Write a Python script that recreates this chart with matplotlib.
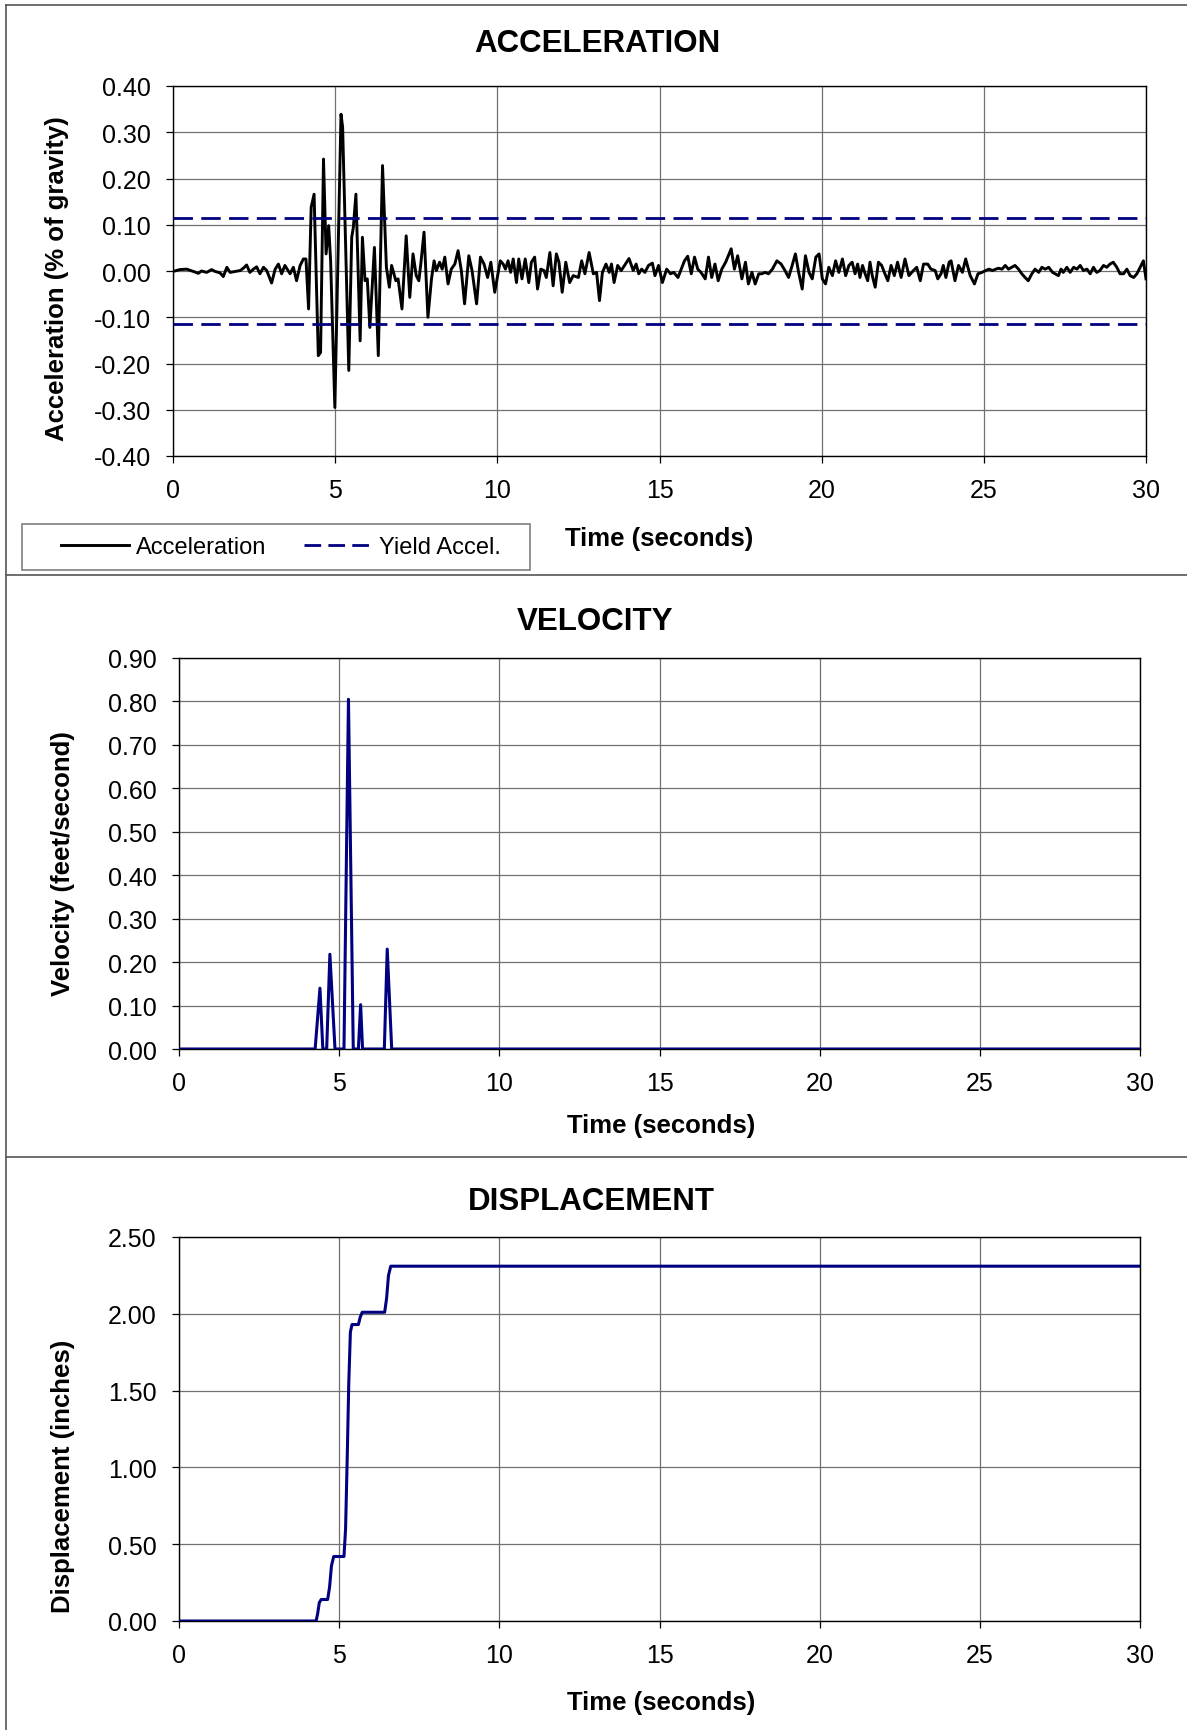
import matplotlib
matplotlib.use("Agg")
import matplotlib.pyplot as plt
from matplotlib.lines import Line2D
from matplotlib.patches import Rectangle

plt.rcParams['font.family'] = ['Liberation Sans', 'DejaVu Sans']

# ---------------- data ----------------
acc_time = [0.00, 0.21, 0.42, 0.63, 0.78, 0.88, 1.04, 1.19, 1.30, 1.45, 1.55, 1.66, 1.76, 1.91,
            2.07, 2.17, 2.27, 2.37, 2.48, 2.58, 2.68, 2.79, 2.89, 3.04, 3.15, 3.25, 3.35, 3.45,
            3.61, 3.71, 3.81, 3.92, 4.02, 4.10, 4.18, 4.26, 4.35, 4.48, 4.55, 4.64, 4.72, 4.80,
            4.86, 4.99, 5.18, 5.23, 5.42, 5.51, 5.56, 5.64, 5.77, 5.84, 5.92, 5.99, 6.07, 6.21,
            6.33, 6.46, 6.58, 6.67, 6.74, 6.87, 6.94, 7.06, 7.19, 7.30, 7.40, 7.50, 7.58, 7.64,
            7.74, 7.86, 7.97, 8.05, 8.12, 8.22, 8.30, 8.38, 8.48, 8.58, 8.69, 8.79, 8.89, 8.99,
            9.12, 9.22, 9.36, 9.48, 9.59, 9.70, 9.80, 9.92, 10.09, 10.18, 10.25, 10.33, 10.41,
            10.49, 10.59, 10.66, 10.76, 10.86, 10.97, 11.05, 11.15, 11.24, 11.34, 11.44, 11.51,
            11.62, 11.72, 11.82, 11.90, 12.00, 12.11, 12.23, 12.34, 12.50, 12.60, 12.70, 12.83,
            12.96, 13.06, 13.15, 13.24, 13.35, 13.45, 13.52, 13.60, 13.71, 13.82, 13.92, 14.06,
            14.19, 14.28, 14.36, 14.45, 14.55, 14.66, 14.78, 14.86, 14.97, 15.09, 15.22, 15.34,
            15.44, 15.57, 15.67, 15.77, 15.87, 15.98, 16.08, 16.18, 16.28, 16.41, 16.51, 16.61,
            16.71, 16.81, 16.92, 17.04, 17.21, 17.31, 17.41, 17.54, 17.65, 17.74, 17.85, 17.95,
            18.06, 18.15, 18.26, 18.36, 18.48, 18.62, 18.75, 18.87, 18.98, 19.09, 19.19, 19.29,
            19.40, 19.50, 19.61, 19.71, 19.82, 19.92, 20.02, 20.12, 20.22, 20.33, 20.43, 20.53,
            20.64, 20.74, 20.84, 20.94, 21.03, 21.11, 21.18, 21.26, 21.34, 21.42, 21.49, 21.56,
            21.65, 21.75, 21.85, 21.95, 22.04, 22.14, 22.24, 22.34, 22.45, 22.57, 22.69, 22.83,
            22.93, 23.04, 23.14, 23.27, 23.37, 23.50, 23.58, 23.68, 23.75, 23.83, 23.93, 23.99,
            24.11, 24.22, 24.34, 24.44, 24.58, 24.71, 24.82, 24.94, 25.06, 25.16, 25.27, 25.37,
            25.45, 25.56, 25.66, 25.76, 25.86, 25.96, 26.07, 26.17, 26.27, 26.37, 26.48, 26.58,
            26.69, 26.79, 26.89, 27.00, 27.12, 27.20, 27.30, 27.38, 27.45, 27.56, 27.66, 27.77,
            27.87, 27.97, 28.07, 28.18, 28.28, 28.38, 28.48, 28.58, 28.69, 28.79, 28.89, 28.99,
            29.10, 29.20, 29.31, 29.41, 29.51, 29.62, 29.72, 29.82, 29.92, 30.00]
acc_value = [-0.001, 0.003, 0.004, -0.001, -0.005, 0.000, -0.003, 0.003, -0.001, -0.004, -0.012,
             0.008, -0.003, -0.001, 0.001, 0.006, 0.013, -0.003, 0.004, 0.009, -0.006, 0.008,
             0.001, -0.026, 0.004, 0.015, -0.006, 0.012, -0.006, 0.008, -0.021, 0.012, 0.026,
             0.026, -0.082, 0.138, 0.166, -0.183, -0.176, 0.242, 0.037, 0.098, 0.022, -0.295,
             0.339, 0.311, -0.215, 0.073, 0.094, 0.166, -0.151, 0.073, -0.021, -0.017, -0.122,
             0.051, -0.183, 0.228, 0.008, -0.035, 0.012, -0.021, -0.017, -0.082, 0.076, -0.057,
             0.037, -0.010, -0.021, 0.015, 0.084, -0.100, -0.017, 0.022, 0.001, 0.019, 0.004,
             0.030, -0.028, 0.004, 0.015, 0.044, 0.001, -0.071, 0.033, 0.001, -0.071, 0.030,
             0.015, -0.014, 0.019, -0.046, 0.022, 0.015, 0.004, 0.022, -0.003, 0.026, -0.025,
             0.026, -0.017, 0.026, -0.025, 0.019, 0.030, -0.039, 0.004, 0.001, -0.014, 0.040,
             -0.032, 0.037, 0.019, -0.046, 0.019, -0.025, -0.010, -0.014, 0.022, -0.006, 0.040,
             -0.006, -0.003, -0.064, -0.003, 0.015, -0.003, 0.015, -0.025, 0.012, 0.001, 0.012,
             0.027, 0.001, 0.015, -0.006, 0.004, -0.003, 0.012, 0.017, -0.010, 0.012, -0.025,
             0.004, -0.006, -0.003, -0.014, 0.004, 0.022, 0.032, -0.006, 0.030, 0.004, -0.003,
             -0.017, 0.030, -0.014, 0.015, -0.021, 0.004, 0.019, 0.048, 0.004, 0.033, -0.017,
             0.019, -0.028, -0.003, -0.028, -0.006, -0.006, -0.003, -0.006, 0.004, 0.022, 0.015,
             0.001, -0.014, 0.012, 0.037, -0.003, -0.039, 0.033, -0.003, -0.017, 0.030, 0.037,
             -0.017, -0.028, 0.008, -0.010, 0.022, -0.003, 0.026, -0.010, 0.012, 0.019, -0.006,
             0.015, -0.014, 0.012, -0.006, -0.021, 0.019, -0.010, -0.035, 0.019, 0.012, -0.006,
             -0.021, 0.012, -0.010, 0.019, -0.014, 0.026, -0.010, 0.001, 0.008, -0.021, 0.015,
             0.015, 0.004, 0.001, -0.017, -0.006, 0.012, -0.014, 0.019, 0.022, -0.021, 0.012,
             -0.003, 0.026, -0.010, -0.028, -0.006, -0.003, 0.001, 0.004, 0.001, 0.004, 0.006,
             0.004, 0.012, 0.004, 0.008, 0.012, 0.004, -0.006, -0.014, -0.021, -0.006, 0.004,
             -0.003, 0.008, 0.004, 0.008, -0.003, -0.006, -0.010, 0.004, -0.003, 0.008, -0.003,
             0.008, 0.004, 0.012, 0.001, 0.004, -0.006, 0.008, -0.003, 0.001, 0.012, 0.008,
             0.015, 0.019, 0.008, -0.006, -0.006, 0.004, -0.010, -0.014, -0.006, 0.008, 0.022,
             -0.017]
yield_accel = 0.115

vel_time = [0.00, 4.25, 4.40, 4.49, 4.61, 4.71, 4.87, 5.15, 5.29, 5.44, 5.60, 5.67, 5.73,
            6.41, 6.50, 6.64, 30.00]
vel_value = [0.00, 0.00, 0.14, 0.00, 0.00, 0.218, 0.00, 0.00, 0.805, 0.00, 0.00, 0.102, 0.00,
             0.00, 0.23, 0.00, 0.00]

disp_time = [0.00, 4.28, 4.33, 4.38, 4.44, 4.64, 4.70, 4.76, 4.83, 5.15, 5.20, 5.25, 5.30,
             5.35, 5.40, 5.60, 5.66, 5.72, 6.42, 6.48, 6.54, 6.61, 30.00]
disp_value = [0.00, 0.00, 0.05, 0.12, 0.14, 0.14, 0.22, 0.36, 0.42, 0.42, 0.60, 1.05, 1.55,
              1.88, 1.93, 1.93, 1.98, 2.01, 2.01, 2.10, 2.25, 2.31, 2.31]

time_ticks = [0, 5, 10, 15, 20, 25, 30]

# ---------------- layout ----------------
W, H = 1187, 1731
fig = plt.figure(figsize=(W / 100, H / 100), dpi=100)
fig.patch.set_facecolor('white')

NAVY = '#000080'
GRID = '#707070'
TICK_FS = 18
LABEL_FS = 18.5
TITLE_FS = 22.5


def px_axes(l, t, r, b):
    return fig.add_axes([l / W, 1 - b / H, (r - l) / W, (b - t) / H])


def ftext(x, y, s, **kw):
    fig.text(x / W, 1 - y / H, s, ha='center', va='center', **kw)


def style(ax, ylim, yticks):
    ax.set_xlim(0, 30)
    ax.set_ylim(*ylim)
    ax.set_xticks(time_ticks)
    ax.set_xticklabels([str(t) for t in time_ticks])
    ax.set_yticks(yticks)
    ax.set_yticklabels([f"{v:.2f}" for v in yticks])
    ax.grid(True, color=GRID, linewidth=0.9)
    ax.set_axisbelow(True)
    for sp in ax.spines.values():
        sp.set_color('black')
        sp.set_linewidth(1.0)
    ax.tick_params(direction='out', length=5, width=0.9, pad=11,
                   labelsize=TICK_FS, colors='black')


# Acceleration
ax1 = px_axes(173, 87, 1146, 457)
ax1.plot(acc_time, acc_value, color='black', linewidth=2.1, zorder=3)
ax1.axhline(yield_accel, color=NAVY, linewidth=2.0, dashes=(7.0, 3.0), zorder=4)
ax1.axhline(-yield_accel, color=NAVY, linewidth=2.0, dashes=(7.0, 3.0), zorder=4)
style(ax1, (-0.4, 0.4), [-0.4 + 0.1 * i for i in range(9)])

# Velocity
ax2 = px_axes(179, 659, 1140, 1050)
ax2.plot(vel_time, vel_value, color=NAVY, linewidth=2.2, zorder=3)
style(ax2, (0, 0.9), [0.1 * i for i in range(10)])

# Displacement
ax3 = px_axes(179, 1238, 1140, 1622)
ax3.plot(disp_time, disp_value, color=NAVY, linewidth=2.2, zorder=3)
style(ax3, (0, 2.5), [0.5 * i for i in range(6)])

# Titles and labels
ftext(597, 44, 'ACCELERATION', fontsize=TITLE_FS, fontweight='bold')
ftext(595, 622, 'VELOCITY', fontsize=TITLE_FS, fontweight='bold')
ftext(591, 1202, 'DISPLACEMENT', fontsize=TITLE_FS, fontweight='bold')

ftext(659, 539, 'Time (seconds)', fontsize=LABEL_FS, fontweight='bold')
ftext(661, 1126, 'Time (seconds)', fontsize=LABEL_FS, fontweight='bold')
ftext(661, 1703, 'Time (seconds)', fontsize=LABEL_FS, fontweight='bold')

ftext(57, 279, 'Acceleration (% of gravity)', fontsize=LABEL_FS, fontweight='bold', rotation=90)
ftext(63, 864, 'Velocity (feet/second)', fontsize=LABEL_FS, fontweight='bold', rotation=90)
ftext(63, 1476, 'Displacement (inches)', fontsize=LABEL_FS, fontweight='bold', rotation=90)

# Legend (box drawn separately)
fig.add_artist(Rectangle((22 / W, 1 - 571 / H), 508 / W, 46.5 / H, transform=fig.transFigure,
                         fill=False, edgecolor='#808080', linewidth=1.2))
handles = [Line2D([], [], color='black', linewidth=2.1),
           Line2D([], [], color=NAVY, linewidth=2.0, dashes=(6.0, 2.6))]
fig.legend(handles, ['Acceleration', 'Yield Accel.'], loc='center left',
           bbox_to_anchor=(61 / W, 1 - 548 / H), ncol=2, frameon=False, fontsize=17,
           handlelength=2.88, handletextpad=0.3, columnspacing=1.6, borderpad=0,
           borderaxespad=0)

# Panel frame lines
for yy in (576, 1158):
    fig.add_artist(Line2D([6 / W, 1], [1 - yy / H, 1 - yy / H], transform=fig.transFigure,
                          color='#555555', linewidth=1.2))
fig.add_artist(Line2D([6 / W, 1], [1 - 5.5 / H, 1 - 5.5 / H], transform=fig.transFigure,
                      color='#555555', linewidth=1.2))
fig.add_artist(Line2D([6 / W, 6 / W], [0, 1 - 5.5 / H], transform=fig.transFigure,
                      color='#555555', linewidth=1.2))

fig.savefig('out.png', dpi=100)
